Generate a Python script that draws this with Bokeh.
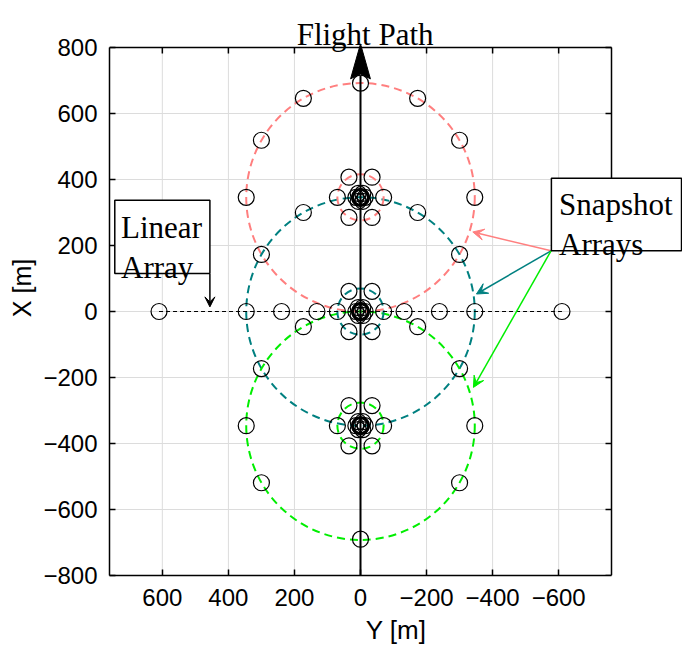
from bokeh.plotting import figure
from bokeh.models import Range1d, FixedTicker, Label, Arrow, VeeHead, BoxAnnotation
from bokeh.embed import file_html
from bokeh.resources import INLINE

# ---------------- data ----------------
x_ticks = [600, 400, 200, 0, -200, -400, -600]
y_ticks = [-800, -600, -400, -200, 0, 200, 400, 600, 800]
Y_LIM = 760          # visible half-width of the Y axis
X_LIM = 800          # visible half-height of the X axis

snap_center_X = [346, 0, -346]          # centres of the three snapshot arrays (X axis)
snap_colors = ["#ff7f7f", "#008080", "#00ee00"]
big_radius = 346
small_radius = 70

outer_Y = [0, 173, -173, 300, -300, 346, -346, 300, -300, 173, -173,
           300, -300, 346, -346, 300, -300, 173, -173, 0]
outer_X = [692, 646, 646, 519, 519, 346, 346, 173, 173, 300, 300,
           -173, -173, -346, -346, -519, -519, -46, -46, -690]

linear_Y = [610, 346, 239, 132, -132, -239, -346, -610]
linear_line_Y = [610, -610]

hex_dY = [70, 35, -35, -70, -35, 35]
hex_dX = [0, 61, 61, 0, -61, -61]
inner_dY = [14, 7, -7, -14, -7, 7]
inner_dX = [0, 12, 12, 0, -12, -12]
core_dY = [3, 1.5, -1.5, -3, -1.5, 1.5]
core_dX = [0, 2.5, 2.5, 0, -2.5, -2.5]

flight_X = [-800, 715]
flight_tip_X = 811

# annotation anchor points (Y, X) in data units
title_pos = (-14, 840)
linear_box = (744, 456, 337, 115)           # left, right, top, bottom
linear_text = [("Linear", 725, 254), ("Array", 725, 133)]
snap_box = (-578, -972, 404, 184)
snap_text = [("Snapshot", -601, 323), ("Arrays", -601, 204)]
linear_arrow = (456, 114, 456, 14)
snap_arrow_start = (-577, 184)
snap_arrow_ends = [(-340, 241), (-351, 53), (-342, -230)]

# ---------------- figure ----------------
FW, FH = 573, 575
SX = 502 / (2 * Y_LIM)      # px per unit
SY = 528 / (2 * X_LIM)
x_end = Y_LIM - FW / SX
y_end = -X_LIM + FH / SY

p = figure(frame_width=FW, frame_height=FH,
           x_range=Range1d(Y_LIM, x_end), y_range=Range1d(-X_LIM, y_end),
           output_backend="svg", toolbar_location=None,
           min_border_left=109, min_border_right=0,
           min_border_top=0, min_border_bottom=78)
p.outline_line_color = None
p.background_fill_color = "white"
p.xgrid.visible = False
p.ygrid.visible = False

TICK_FONT = "Liberation Sans"
for ax in (p.xaxis[0], p.yaxis[0]):
    ax.major_label_text_font = TICK_FONT
    ax.major_label_text_font_size = "24px"
    ax.major_label_text_color = "black"
    ax.axis_label_text_font = TICK_FONT
    ax.axis_label_text_font_size = "26px"
    ax.axis_label_text_font_style = "normal"
    ax.axis_label_text_color = "black"
    ax.axis_line_color = "black"
    ax.axis_line_width = 1.5
    ax.major_tick_in = 6
    ax.major_tick_out = 0
    ax.major_tick_line_width = 1.5
    ax.minor_tick_line_color = None

p.xaxis.ticker = FixedTicker(ticks=x_ticks)
p.yaxis.ticker = FixedTicker(ticks=y_ticks)
p.xaxis.bounds = (-Y_LIM, Y_LIM)
p.yaxis.bounds = (-X_LIM, X_LIM)
p.xaxis.axis_label = "Y [m]"
p.yaxis.axis_label = "X [m]"
p.yaxis.axis_label_text_font_size = "25px"
p.xaxis.major_label_standoff = 13
p.yaxis.major_label_standoff = 12
p.xaxis.axis_label_standoff = 6
p.yaxis.axis_label_standoff = 4

# grid lines (bounded to the axes box)
GRID = "#dcdcdc"
p.segment(x0=x_ticks, y0=[-X_LIM] * len(x_ticks), x1=x_ticks, y1=[X_LIM] * len(x_ticks),
          line_color=GRID, line_width=1)
p.segment(x0=[Y_LIM] * len(y_ticks), y0=y_ticks, x1=[-Y_LIM] * len(y_ticks), y1=y_ticks,
          line_color=GRID, line_width=1)

# top and right edges of the axes box, with inward ticks
p.line(x=[Y_LIM, -Y_LIM], y=[X_LIM, X_LIM], line_color="black", line_width=1.5)
p.line(x=[-Y_LIM, -Y_LIM], y=[-X_LIM, X_LIM], line_color="black", line_width=1.5)
tl_x, tl_y = 6 / SX, 6 / SY
p.segment(x0=x_ticks, y0=[X_LIM] * len(x_ticks), x1=x_ticks, y1=[X_LIM - tl_y] * len(x_ticks),
          line_color="black", line_width=1.5)
p.segment(x0=[-Y_LIM] * len(y_ticks), y0=y_ticks, x1=[-Y_LIM + tl_x] * len(y_ticks), y1=y_ticks,
          line_color="black", line_width=1.5)

# dashed circles of the snapshot arrays
p.circle(x=[0] * 3, y=snap_center_X, radius=big_radius, fill_color=None,
         line_color=snap_colors, line_dash="8 5", line_width=2)
p.circle(x=[0] * 3, y=snap_center_X, radius=small_radius, fill_color=None,
         line_color=snap_colors, line_dash="8 5", line_width=2)

# linear array line
p.line(x=linear_line_Y, y=[0, 0], line_color="black", line_dash="4 3", line_width=1)

# flight path
p.line(x=[0, 0], y=flight_X, line_color="black", line_width=2)
head_len, head_half, head_notch = 106, 30, 15
p.patch(x=[0, head_half, 0, -head_half],
        y=[flight_tip_X, flight_tip_X - head_len,
           flight_tip_X - head_len + head_notch, flight_tip_X - head_len],
        fill_color="black", line_color="black")

# markers
mY, mX = list(outer_Y), list(outer_X)
mY += linear_Y
mX += [0] * len(linear_Y)
for c in snap_center_X:
    for dys, dxs in ((hex_dY, hex_dX), (inner_dY, inner_dX), (core_dY, core_dX)):
        for dy, dx in zip(dys, dxs):
            mY.append(dy)
            mX.append(c + dx)
p.scatter(x=mY, y=mX, marker="circle", size=16, fill_color=None,
          line_color="black", line_width=1.2)

# annotation arrows
x0, y0, x1, y1 = linear_arrow
p.add_layout(Arrow(x_start=x0, y_start=y0, x_end=x1, y_end=y1,
                   line_color="black", line_width=1.5,
                   end=VeeHead(size=10, fill_color="black", line_color="black")))
for (ex, ey), col in zip(snap_arrow_ends, snap_colors):
    p.add_layout(Arrow(x_start=snap_arrow_start[0], y_start=snap_arrow_start[1],
                       x_end=ex, y_end=ey, line_color=col, line_width=1.5,
                       end=VeeHead(size=11, fill_color=col, line_color=col)))

SERIF = "Liberation Serif"
p.add_layout(Label(x=title_pos[0], y=title_pos[1], text="Flight Path", text_font=SERIF,
                   text_font_size="31px", text_align="center",
                   text_baseline="alphabetic", text_color="black"))
for box, texts in ((linear_box, linear_text), (snap_box, snap_text)):
    l, r, t, b = box
    p.add_layout(BoxAnnotation(left=l, right=r, top=t, bottom=b,
                               fill_color="white", fill_alpha=1.0,
                               line_color="black", line_alpha=1.0, line_width=1.5))
    for txt, tx, ty in texts:
        p.add_layout(Label(x=tx, y=ty, text=txt, text_font=SERIF,
                           text_font_size="31px", text_align="left",
                           text_baseline="alphabetic", text_color="black"))

open("out.html", "w").write(file_html(p, INLINE))
